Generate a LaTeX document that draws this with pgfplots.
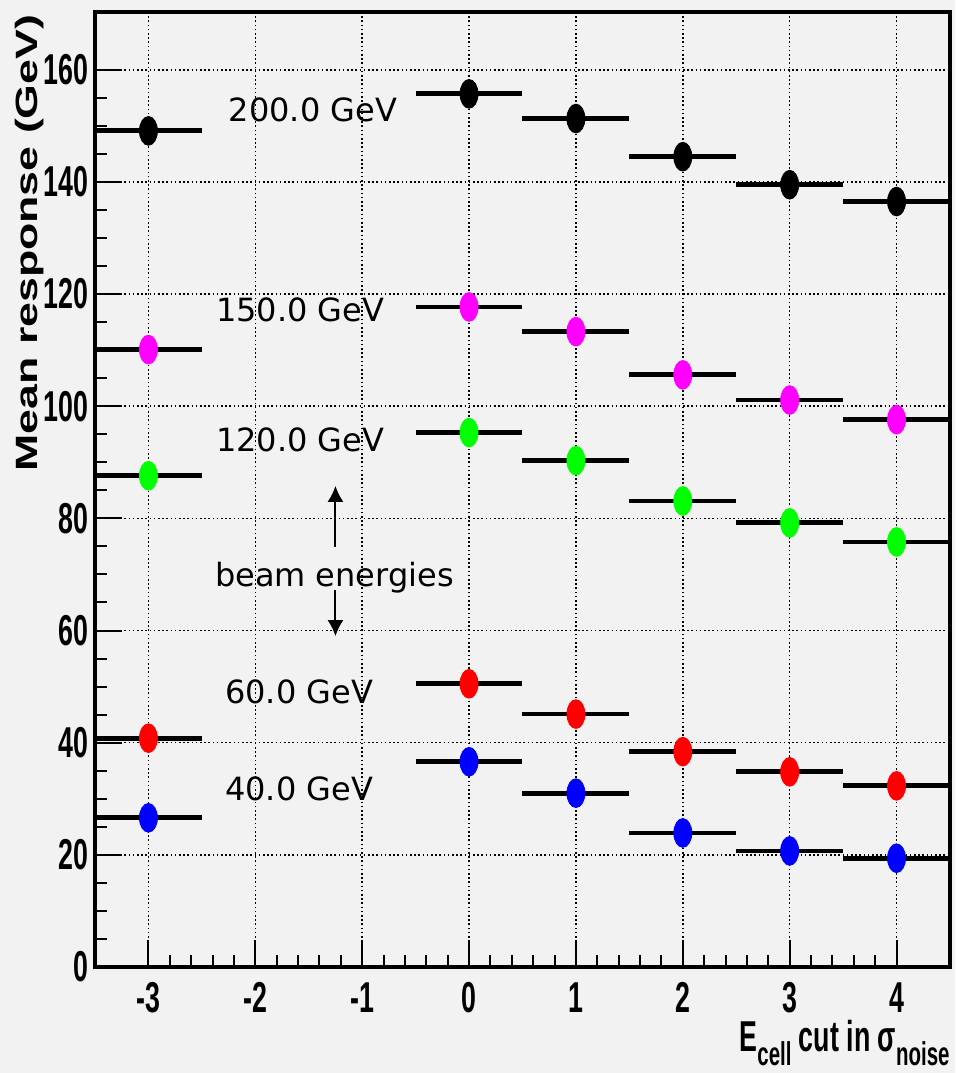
\documentclass[border=0pt]{standalone}
\usepackage{pgfplots}
\pgfplotsset{compat=1.18}
\usepackage{fontspec}
\setmainfont{DejaVu Sans}
\newfontfamily\tickfont[FakeStretch=0.62]{Liberation Sans Bold}
\newfontfamily\ylabfont[FakeStretch=1.45]{Liberation Sans Bold}
\usetikzlibrary{arrows.meta}
\definecolor{bgc}{RGB}{242,242,242}
\definecolor{mag}{RGB}{255,0,255}
\definecolor{grn}{RGB}{0,255,0}
\definecolor{rd}{RGB}{255,0,0}
\definecolor{bl}{RGB}{0,0,255}

\pgfplotstableread{
x    b      m      g     r     u
-3   149.1  110.1  87.6  40.8  26.6
0    155.7  117.7  95.3  50.5  36.6
1    151.3  113.3  90.3  45.1  31.0
2    144.5  105.6  83.1  38.4  23.9
3    139.5  101.1  79.2  34.8  20.7
4    136.5  97.6   75.8  32.3  19.4
}\datatab

\pgfplotsset{pt/.style={only marks, mark=*, mark size=4.5pt, color=#1, mark options={yscale=1.6},
  error bars/x dir=both, error bars/x fixed=0.5, error bars/error mark=none,
  error bars/error bar style={line width=2.4pt, black}}}

\begin{document}
\begin{tikzpicture}
\fill[bgc] (-47.5pt,-53pt) rectangle (430pt,483.5pt);
\begin{axis}[
 at={(0,0)}, anchor=south west,
 scale only axis, width=427.5pt, height=477.5pt,
 xmin=-3.5, xmax=4.5, ymin=0, ymax=170.3,
 axis line style={line width=1.6pt},
 axis background/.style={fill=bgc},
 xtick={-3,-2,-1,0,1,2,3,4},
 ytick={0,20,40,60,80,100,120,140,160},
 minor x tick num=4, minor y tick num=3,
 tick pos=left, tick align=inside,
 major tick length=13.5pt, minor tick length=6pt,
 every tick/.style={black, line width=1pt},
 grid=major,
 major grid style={black, line width=0.8pt, dash pattern=on 0.8pt off 1.3pt},
 /pgf/number format/assume math mode=true,
 yticklabel style={font=\tickfont\fontsize{21.6pt}{22pt}\selectfont, inner sep=0pt, xshift=-3pt},
 xticklabel style={font=\tickfont\fontsize{21.6pt}{22pt}\selectfont, inner sep=0pt, yshift=-7.5pt},
 ylabel={Mean response (GeV)},
 ylabel style={font=\ylabfont\fontsize{15.4pt}{16pt}\selectfont, at={(rel axis cs:-0.076,0.758)}, anchor=center, inner sep=0pt},
 xlabel={\tickfont\fontsize{21.6pt}{22pt}\selectfont E\raisebox{-7.3pt}{\fontsize{16.5pt}{17pt}\selectfont cell} cut in σ\raisebox{-7.3pt}{\fontsize{16.5pt}{17pt}\selectfont noise}},
 xlabel style={at={(rel axis cs:1,-0.088)}, anchor=base east, inner sep=0pt},
]
\addplot[pt=black] table[x=x, y=b] {\datatab};
\addplot[pt=mag] table[x=x, y=m] {\datatab};
\addplot[pt=grn] table[x=x, y=g] {\datatab};
\addplot[pt=rd] table[x=x, y=r] {\datatab};
\addplot[pt=bl] table[x=x, y=u] {\datatab};

\begin{scope}[font=\fontsize{16pt}{18pt}\selectfont]
\node at (axis cs:-1.46,152.9) {200.0 GeV};
\node at (axis cs:-1.58,117.2) {150.0 GeV};
\node at (axis cs:-1.58,94.0) {120.0 GeV};
\node at (axis cs:-1.26,69.4) {beam energies};
\node at (axis cs:-1.59,49.1) {60.0 GeV};
\node at (axis cs:-1.59,31.8) {40.0 GeV};
\end{scope}
\draw[line width=1pt, -{Latex[length=8pt,width=8pt]}] (axis cs:-1.25,74.9) -- (axis cs:-1.25,85.8);
\draw[line width=1pt, -{Latex[length=8pt,width=8pt]}] (axis cs:-1.25,67.2) -- (axis cs:-1.25,59.0);
\end{axis}
\pgfresetboundingbox
\path (-47.5pt,-53pt) rectangle (430pt,483.5pt);
\end{tikzpicture}
\end{document}
